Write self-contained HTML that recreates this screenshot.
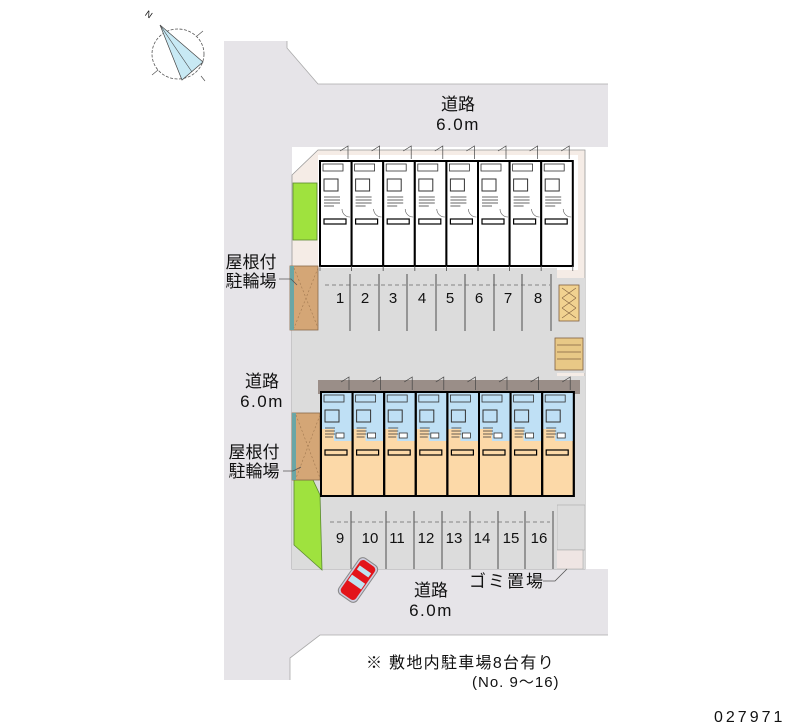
<!DOCTYPE html>
<html><head><meta charset="utf-8"><style>
html,body{margin:0;padding:0;background:#fff;}
svg{display:block}
text{font-family:"Liberation Sans","Noto Sans CJK JP",sans-serif;fill:#111}
</style></head><body>
<svg width="800" height="727" viewBox="0 0 800 727" xmlns="http://www.w3.org/2000/svg">
<defs>
<g id="ut">
 <rect x="0" y="0" width="31.6" height="105" fill="#fff" stroke="#000" stroke-width="2"/>
 <path d="M20 -10 l8 -5 v13" fill="none" stroke="#444" stroke-width="0.7"/>
 <rect x="3" y="3" width="20" height="7" fill="none" stroke="#333" stroke-width="0.8"/>
 <rect x="4" y="18" width="14" height="12" fill="none" stroke="#333" stroke-width="1"/>
 <path d="M4 36 h16 M4 39 h16 M4 42 h16 M4 45 h10" stroke="#333" stroke-width="0.8"/>
 <path d="M22 48 a8 8 0 0 0 8 8" fill="none" stroke="#555" stroke-width="0.6"/>
 <rect x="4" y="58" width="22" height="5" fill="none" stroke="#000" stroke-width="1.2"/>
 <path d="M0 105 v5 M31.6 105 v5" stroke="#555" stroke-width="0.7"/>
</g>
<g id="ub">
 <rect x="0" y="0" width="31.6" height="104" fill="#fcd9a8" stroke="#000" stroke-width="2"/>
 <path d="M1 1 h30 v48 h-18 v-12 h-12 z" fill="#bfe0f5"/>
 <path d="M20 -10 l8 -5 v13" fill="none" stroke="#444" stroke-width="0.7"/>
 <rect x="3" y="3" width="20" height="7" fill="none" stroke="#333" stroke-width="0.8"/>
 <rect x="4" y="18" width="14" height="12" fill="none" stroke="#333" stroke-width="1"/>
 <path d="M4 36 h10 M4 39 h10 M4 42 h10 M4 45 h8" stroke="#333" stroke-width="0.8"/>
 <rect x="15" y="41" width="8" height="5" fill="#fff" stroke="#333" stroke-width="0.8"/>
 <rect x="4" y="58" width="22" height="5" fill="none" stroke="#000" stroke-width="1.2"/>
 <rect x="0" y="0" width="31.6" height="104" fill="none" stroke="#000" stroke-width="2"/>
</g>
</defs>

<!-- compass -->
<ellipse cx="178" cy="54" rx="26" ry="25" fill="none" stroke="#555" stroke-width="0.8" stroke-dasharray="3,1.5"/>
<path d="M160 25 L203 62 L182 80 Z" fill="#c8e9f4" stroke="#444" stroke-width="0.7"/>
<path d="M160 25 L192 72" stroke="#444" stroke-width="0.6"/>
<path d="M197 36 l6 -5 M158 70 l-6 5 M201 76 l4 5" stroke="#555" stroke-width="0.7"/>
<text x="146" y="18" font-size="9" transform="rotate(35 150 14)">N</text>

<!-- roads -->
<path d="M224 41 L287 41 L287 48 L318 84 L608 84 L608 147 L292 147 L292 569 L608 569 L608 635 L320 635 L290 658 L290 680 L224 680 Z" fill="#e6e4e8"/>
<path d="M287 41 L287 48 L318 84 L608 84" fill="none" stroke="#aaa" stroke-width="0.8"/>
<path d="M608 635 L320 635 L290 658 L290 680" fill="none" stroke="#aaa" stroke-width="0.8"/>

<!-- lot -->
<path d="M292 175 L318 150 L585 150 L585 569 L292 569 Z" fill="#f5ece6" stroke="#999" stroke-width="0.8"/>
<rect x="318" y="155" width="260" height="115" fill="#fff"/>
<rect x="292" y="268" width="265" height="108" fill="#dcdcdc"/>
<rect x="557" y="278" width="28" height="95" fill="#dcdcdc"/>
<rect x="292" y="376" width="293" height="193" fill="#dcdcdc"/>
<rect x="318" y="380" width="262" height="14" fill="#9a8e88"/>
<rect x="557" y="505" width="28" height="45" fill="#dcdcdc" stroke="#aaa" stroke-width="0.6"/>
<rect x="555" y="550" width="28" height="19" fill="#efe5e3" stroke="#aaa" stroke-width="0.6"/>
<rect x="322" y="497" width="235" height="72" fill="#dcdcdc"/>

<!-- greens -->
<rect x="293" y="183" width="24" height="57" fill="#9fe23e" stroke="#5a8a30" stroke-width="0.8"/>
<path d="M294 480 L313 480 L320 495 L322 570 L294 545 Z" fill="#9fe23e" stroke="#5a8a30" stroke-width="0.8"/>

<!-- bike sheds -->
<rect x="290" y="266" width="28" height="64" fill="#d4a676" stroke="#8a6a4a" stroke-width="0.8"/>
<rect x="290" y="266" width="4" height="64" fill="#6aa6a6"/>
<path d="M294 268 L318 328 M318 268 L294 328" stroke="#a07850" stroke-width="0.6" stroke-dasharray="2,2"/>
<rect x="292" y="413" width="28" height="67" fill="#d4a676" stroke="#8a6a4a" stroke-width="0.8"/>
<rect x="292" y="413" width="4" height="67" fill="#6aa6a6"/>
<path d="M296 415 L320 478 M320 415 L296 478" stroke="#a07850" stroke-width="0.6" stroke-dasharray="2,2"/>
<!-- right storage -->
<rect x="559" y="285" width="20" height="36" fill="#f1d290" stroke="#806040" stroke-width="0.8"/>
<path d="M562 288 l14 10 M576 288 l-14 10 M562 298 l14 10 M576 298 l-14 10 M562 308 l14 10 M576 308 l-14 10" stroke="#806040" stroke-width="0.6"/>
<rect x="555" y="338" width="28" height="32" fill="#e8c886" stroke="#806040" stroke-width="0.8"/>
<path d="M557 345 h24 M557 352 h24 M557 359 h24" stroke="#806040" stroke-width="0.8"/>

<!-- top units -->
<use href="#ut" x="320" y="161"/><use href="#ut" x="351.6" y="161"/><use href="#ut" x="383.2" y="161"/><use href="#ut" x="414.8" y="161"/>
<use href="#ut" x="446.4" y="161"/><use href="#ut" x="478" y="161"/><use href="#ut" x="509.6" y="161"/><use href="#ut" x="541.2" y="161"/>
<!-- bottom units -->
<use href="#ub" x="321" y="392"/><use href="#ub" x="352.6" y="392"/><use href="#ub" x="384.2" y="392"/><use href="#ub" x="415.8" y="392"/>
<use href="#ub" x="447.4" y="392"/><use href="#ub" x="479" y="392"/><use href="#ub" x="510.6" y="392"/><use href="#ub" x="542.2" y="392"/>

<!-- parking lines -->
<g stroke="#666" stroke-width="1.2">
<path d="M350 274 v57 M379 274 v57 M407 274 v57 M436 274 v57 M465 274 v57 M494 274 v57 M522 274 v57 M551 274 v57"/>
<path d="M351 511 v58 M386 511 v58 M414 511 v58 M442 511 v58 M470 511 v58 M498 511 v58 M525 511 v58 M553 511 v58"/>
</g>
<g stroke="#666" stroke-width="0.8" stroke-dasharray="4,3">
<path d="M325 285 h225 M330 522 h220"/>
</g>
<g font-size="15" text-anchor="middle">
<text x="340" y="303">1</text><text x="365" y="303">2</text><text x="393" y="303">3</text><text x="422" y="303">4</text>
<text x="450" y="303">5</text><text x="479" y="303">6</text><text x="508" y="303">7</text><text x="538" y="303">8</text>
<text x="340" y="543">9</text><text x="370" y="543">10</text><text x="397" y="543">11</text><text x="426" y="543">12</text>
<text x="454" y="543">13</text><text x="482" y="543">14</text><text x="511" y="543">15</text><text x="539" y="543">16</text>
</g>

<!-- car -->
<g transform="translate(358 580) rotate(-55)">
<rect x="-22" y="-11" width="44" height="22" rx="5" fill="#ccd" stroke="#888" stroke-width="1"/>
<rect x="-20" y="-9" width="40" height="18" rx="4" fill="#e3141a"/>
<rect x="-6" y="-8" width="7" height="16" fill="#bfe3f0"/>
<rect x="8" y="-7" width="5" height="14" fill="#bfe3f0"/>
</g>

<!-- labels -->
<g font-size="17" text-anchor="middle">
<text x="458" y="110">道路</text><text x="458" y="130" letter-spacing="1.5">6.0m</text>
<text x="262" y="387">道路</text><text x="262" y="407" letter-spacing="1.5">6.0m</text>
<text x="431" y="596">道路</text><text x="431" y="616" letter-spacing="1.5">6.0m</text>
<text x="251" y="268">屋根付</text><text x="251" y="287">駐輪場</text>
<text x="254" y="458">屋根付</text><text x="254" y="477">駐輪場</text>
<text x="507" y="587" letter-spacing="2">ゴミ置場</text>
</g>
<path d="M279 279 h12 l6 6 M283 471 h10 l8 -4 M543 581 h12 l12 -12" fill="none" stroke="#555" stroke-width="0.8"/>
<text x="366" y="668" font-size="16" letter-spacing="1.3">※ 敷地内駐車場8台有り</text>
<text x="472" y="687" font-size="15" letter-spacing="1">(No. 9～16)</text>
<text x="714" y="722" font-size="16" letter-spacing="3">027971</text>
</svg>
</body></html>
